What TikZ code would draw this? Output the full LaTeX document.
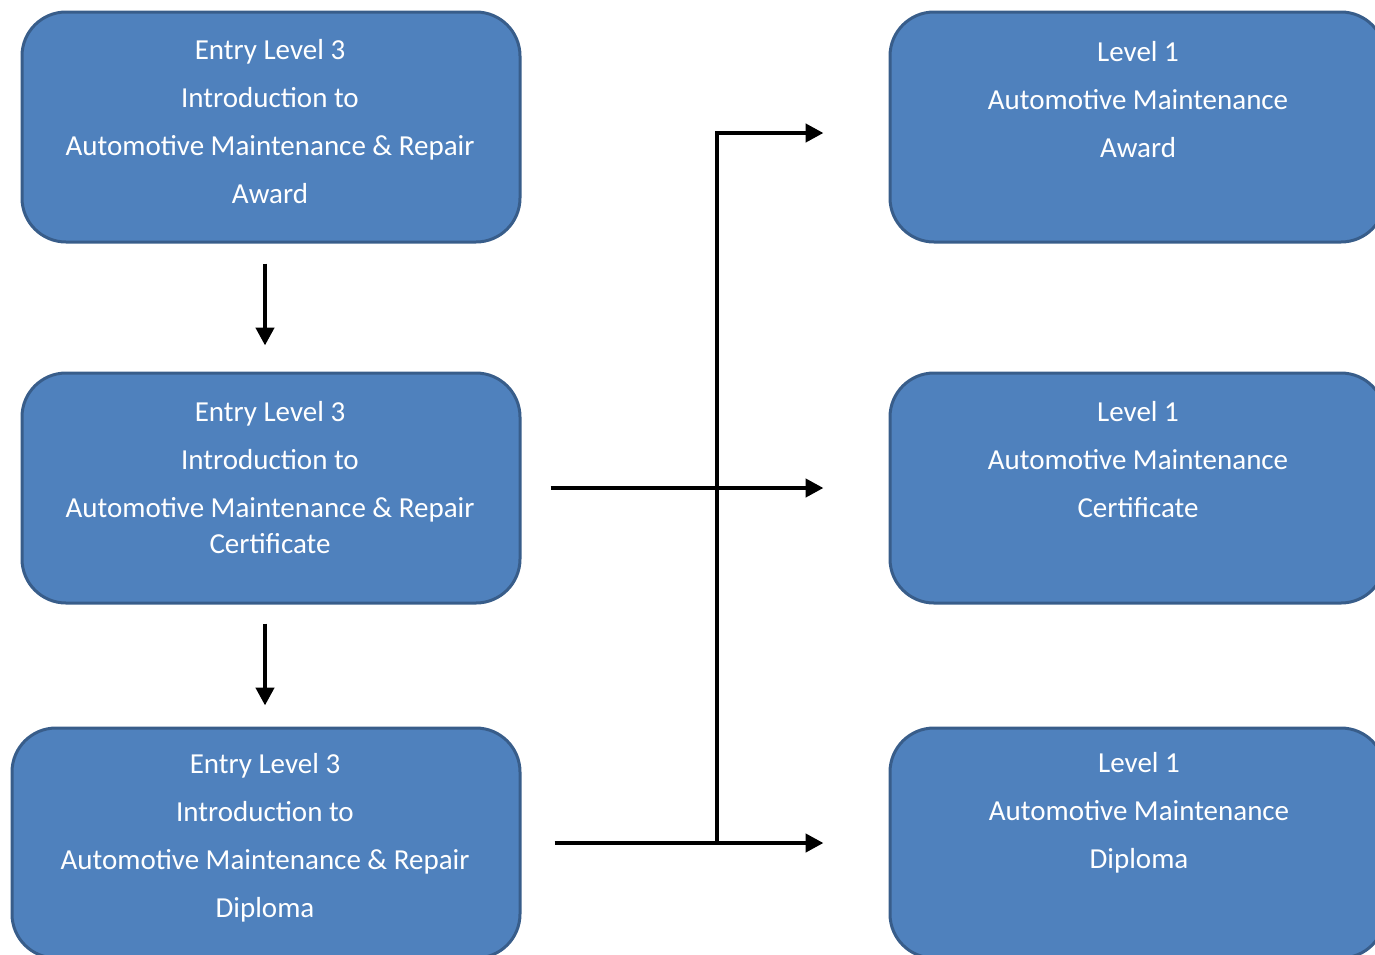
\documentclass[tikz,border=0pt]{standalone}
\usepackage{fontspec}
\setmainfont{Carlito}
\usetikzlibrary{arrows.meta}
\definecolor{boxblue}{HTML}{4F81BD}
\definecolor{boxedge}{HTML}{385D8A}
\begin{document}
\begin{tikzpicture}[x=0.5pt, y=-0.5pt,
    course/.style={draw=boxedge, line width=1.5pt, fill=boxblue, rounded corners=22pt,
        minimum height=115pt, inner sep=0pt},
    coursetext/.style={text=white, align=center, font=\fontsize{14.5}{24}\selectfont},
    flow/.style={-{Triangle[length=9pt,width=9pt]}, line width=2.2pt}]
    \useasboundingbox (0,0) rectangle (1375,954);
    \clip (0,0) rectangle (1375,954);

    % Entry level courses (left)
    \node[course, minimum width=249pt] (entryA) at (271,127) {};
    \node[course, minimum width=249pt] (entryB) at (271,488) {};
    \node[course, minimum width=254pt] (entryC) at (266,843) {};
    \node[coursetext] (entryAtext) at (270,122) {Entry Level 3\\Introduction to\\Automotive Maintenance \& Repair\\Award};
    \node[coursetext] (entryBtext) at (270,478) {Entry Level 3\\Introduction to\\Automotive Maintenance \& Repair\\[-6pt]Certificate};
    \node[coursetext] (entryCtext) at (265,838) {Entry Level 3\\Introduction to\\Automotive Maintenance \& Repair\\Diploma};

    % Level 1 courses (right)
    \node[course, minimum width=247.5pt] (levelA) at (1137.5,127) {};
    \node[course, minimum width=247.5pt] (levelB) at (1137.5,488) {};
    \node[course, minimum width=247.5pt] (levelC) at (1137.5,843) {};
    \node[coursetext] (levelAtext) at (1138,100) {Level 1\\Automotive Maintenance\\Award};
    \node[coursetext] (levelBtext) at (1138,460) {Level 1\\Automotive Maintenance\\Certificate};
    \node[coursetext] (levelCtext) at (1139,813) {Level 1\\Automotive Maintenance\\Diploma};

    % Progression arrows
    \draw[flow] ([xshift=-3pt,yshift=-10pt]entryA.south) -- ([xshift=-3pt,yshift=13pt]entryB.north);
    \draw[flow] ([xshift=-3pt,yshift=-9.5pt]entryB.south) -- ([xshift=-0.5pt,yshift=10.5pt]entryC.north);
    \draw[flow] ([xshift=14.5pt]entryB.east) -- ([xshift=-32.5pt]levelB.west);
    \draw[flow] ([xshift=16.5pt]entryC.east) -- ([xshift=-32.5pt]levelC.west);
    \coordinate (split) at (717,843);
    \draw[flow] (split) |- ([xshift=-32.5pt,yshift=-3pt]levelA.west);
\end{tikzpicture}
\end{document}
